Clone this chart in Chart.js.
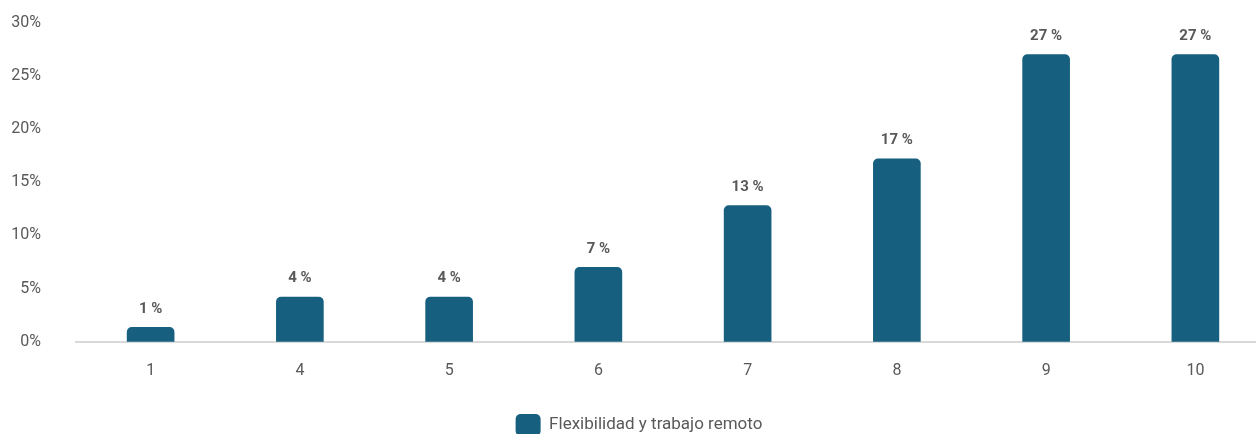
<!DOCTYPE html>
<html>
<head>
<meta charset="utf-8">
<script src="https://cdn.jsdelivr.net/npm/chart.js@4"></script>
<style>
  html, body { margin: 0; padding: 0; background: #fff; overflow: hidden; }
  #wrap { width: 1270px; height: 468px; margin-top: -22px; }
</style>
</head>
<body>
<div id="wrap"><canvas id="myChart"></canvas></div>
<script>
// Data
const categories = ['1', '4', '5', '6', '7', '8', '9', '10'];
const values = [1.35, 4.2, 4.2, 7.0, 12.8, 17.2, 27.0, 27.0];
const seriesName = 'Flexibilidad y trabajo remoto';
const yTicks = [0, 5, 10, 15, 20, 25, 30];

const barColor = '#175f7e';
const textColor = '#595959';

// Simple plugin to draw the value labels above bars
const valueLabels = {
    id: 'valueLabels',
    afterDatasetsDraw(chart) {
        const ctx = chart.ctx;
        const meta = chart.getDatasetMeta(0);
        ctx.save();
        ctx.font = 'bold 15px Roboto, sans-serif';
        ctx.fillStyle = textColor;
        ctx.textAlign = 'center';
        ctx.textBaseline = 'bottom';
        meta.data.forEach((bar, i) => {
            ctx.fillText(Math.round(values[i]) + ' %', bar.x, bar.y - 11);
        });
        ctx.restore();
    }
};

new Chart(document.getElementById('myChart'), {
    type: 'bar',
    data: {
        labels: categories,
        datasets: [{
            label: seriesName,
            data: values,
            backgroundColor: barColor,
            borderRadius: { topLeft: 5, topRight: 5 },
            borderSkipped: 'bottom',
            barThickness: 47
        }]
    },
    options: {
        responsive: true,
        maintainAspectRatio: false,
        animation: false,
        layout: { padding: { left: 8, right: 0, top: 12, bottom: 0 } },
        plugins: {
            legend: {
                position: 'bottom',
                labels: {
                    color: textColor,
                    font: { family: 'Roboto, sans-serif', size: 17 },
                    boxWidth: 25,
                    boxHeight: 22,
                    useBorderRadius: true,
                    borderRadius: 5,
                    padding: 13
                }
            },
            tooltip: { enabled: false }
        },
        scales: {
            x: {
                grid: { display: false, drawTicks: false },
                border: { color: '#d9d9d9', width: 2 },
                ticks: {
                    color: textColor,
                    font: { family: 'Roboto, sans-serif', size: 16 },
                    padding: 20
                }
            },
            y: {
                min: 0,
                max: 30,
                afterFit: s => { s.width = 68; },
                afterBuildTicks: s => { s.ticks = yTicks.map(v => ({ value: v })); },
                grid: { display: false, drawTicks: false },
                border: { display: false },
                ticks: {
                    color: textColor,
                    font: { family: 'Roboto, sans-serif', size: 16 },
                    padding: 35,
                    callback: v => v + '%'
                }
            }
        }
    },
    plugins: [valueLabels]
});
</script>
</body>
</html>
